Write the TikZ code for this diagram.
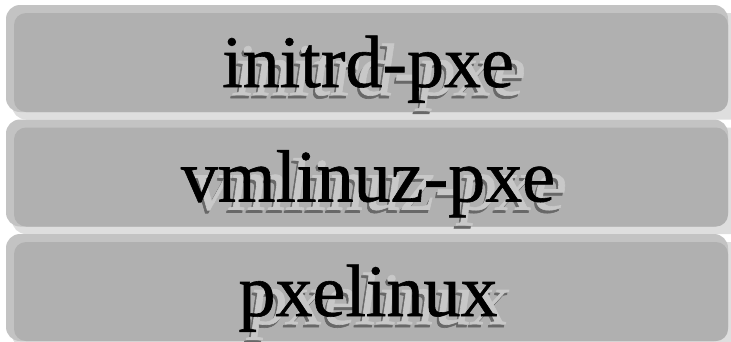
\documentclass[tikz,border=0pt]{standalone}
\usepackage{fontspec}
\setmainfont{Liberation Serif}
\newfontfamily\labelfont[FakeBold=0.8]{Liberation Serif}
\definecolor{boxfill}{HTML}{B0B0B0}
\definecolor{boxbevel}{HTML}{C3C3C3}
\definecolor{boxshade}{HTML}{DEDEDE}
\definecolor{txtlight}{HTML}{C8C8C8}
\definecolor{txtdark}{HTML}{686868}
\tikzset{
  shadeband/.style={fill=boxshade, rounded corners=14pt},
  bevelband/.style={fill=boxbevel, rounded corners=14pt},
  mainband/.style={fill=boxfill, rounded corners=12pt},
  label/.style={font=\labelfont\fontsize{74}{80}\selectfont, inner sep=0pt, anchor=base},
  labeldark/.style={label, text=txtdark, xslant=0.15},
  labellight/.style={label, text=txtlight, xslant=0.15},
}
\begin{document}
\begin{tikzpicture}[x=1pt,y=-1pt]
\useasboundingbox (0,0) rectangle (731,341);
\foreach \top/\nm/\txt in {5/a/initrd-pxe, 119.5/b/vmlinuz-pxe, 234/c/pxelinux}{
  % soft shadow band behind each block
  \fill[shadeband] (12,\top+8) rectangle (745,\top+114.5);
  % lighter bevel on the top and left edges
  \fill[bevelband] (6,\top) rectangle (728,\top+107);
  % main face of the block
  \fill[mainband] (14,\top+8) rectangle (728,\top+107);
  % layered text shadow, then the label itself
  \node[labeldark]  (\nm-sd) at (375,\top+93) {\txt};
  \node[labellight] (\nm-sl) at (377,\top+90) {\txt};
  \node[label]      (\nm)    at (368,\top+82) {\txt};
}
\end{tikzpicture}
\end{document}
